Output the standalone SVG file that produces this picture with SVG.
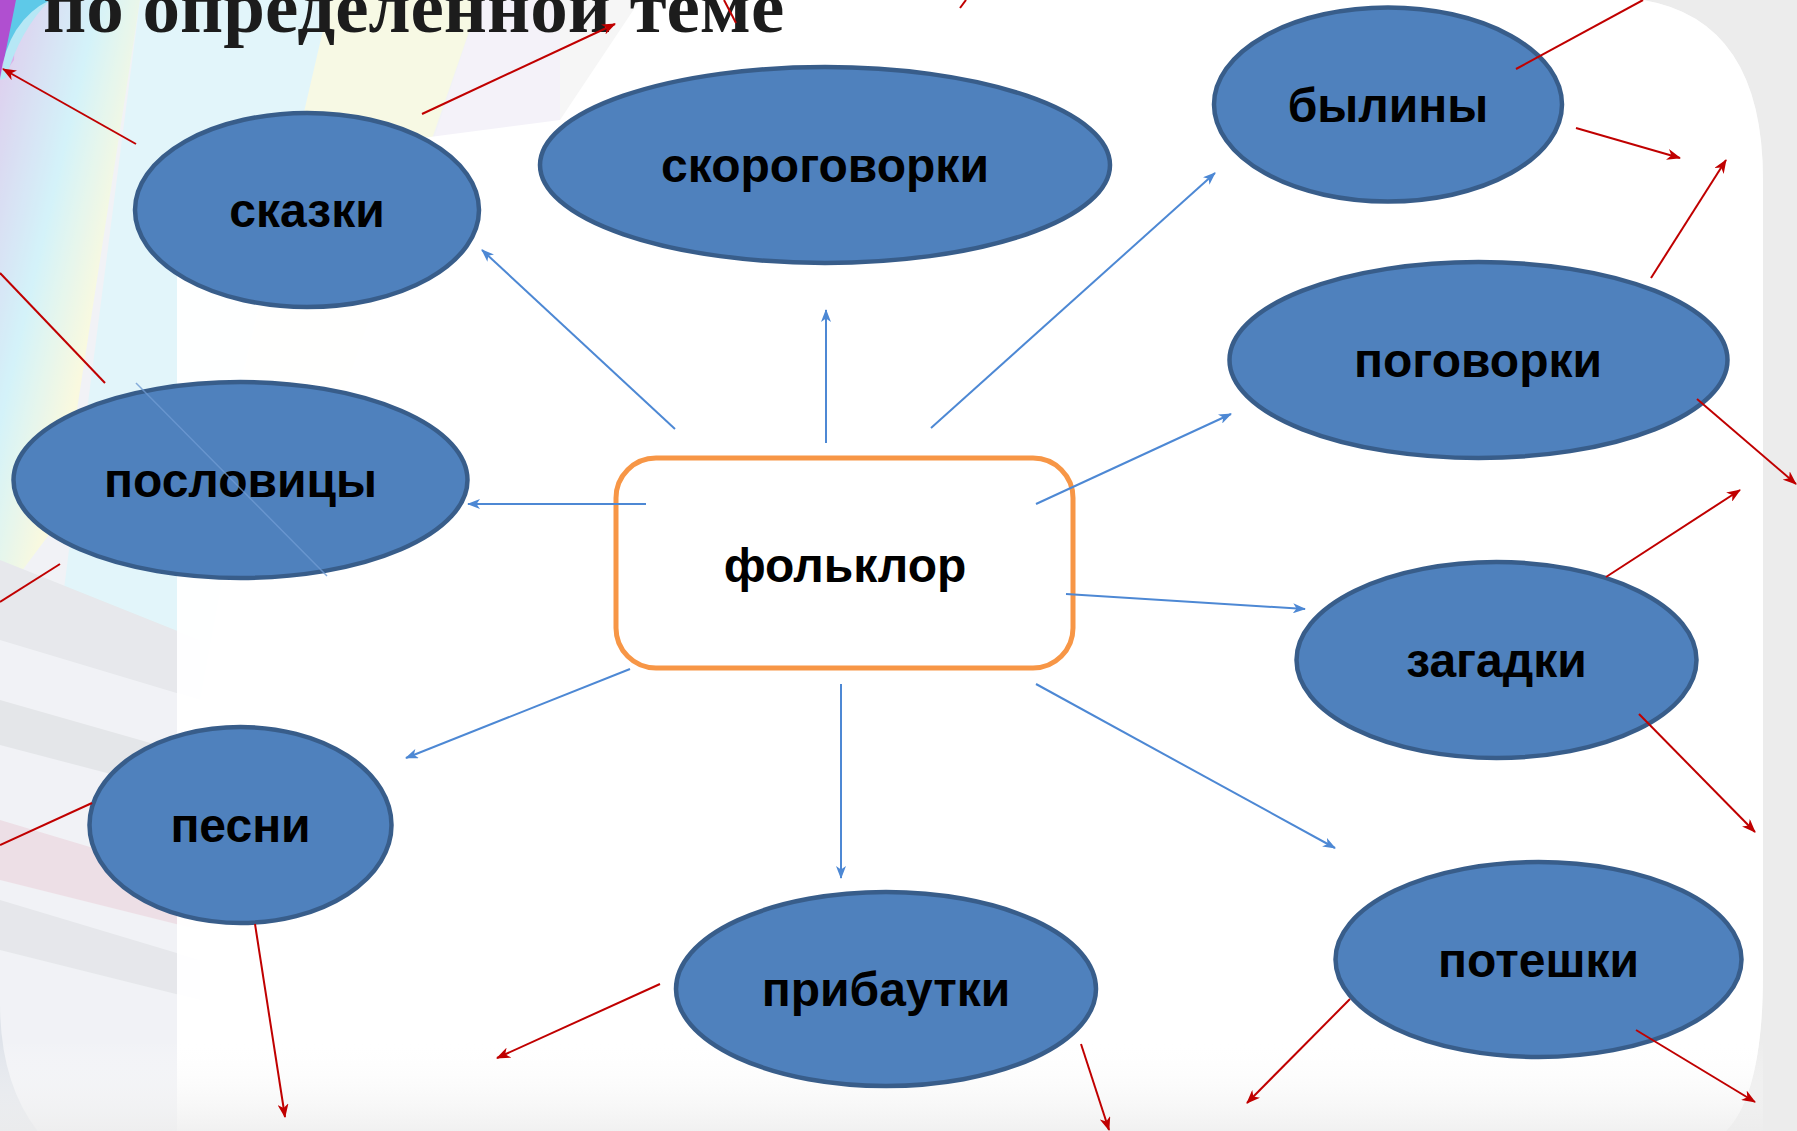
<svg xmlns="http://www.w3.org/2000/svg" width="1797" height="1131" viewBox="0 0 1797 1131">
  <defs>
    <style>
      .node ellipse { fill: #4F81BD; stroke: #385D8A; stroke-width: 4.5; }
      .label { font-family: "Liberation Sans", Arial, sans-serif; font-weight: bold; font-size: 48px; fill: #000; text-anchor: middle; }
      .blue { stroke: #4D88D4; stroke-width: 2; fill: none; marker-end: url(#arrowBlue); }
      .red { stroke: #C00000; stroke-width: 2; fill: none; marker-end: url(#arrowRed); }
      .red-plain { stroke: #C00000; stroke-width: 2; fill: none; }
      .title { font-family: "Liberation Serif", "Times New Roman", serif; font-weight: bold; font-size: 75px; fill: #1c1c1c; }
    </style>
    <marker id="arrowBlue" markerUnits="userSpaceOnUse" markerWidth="13" markerHeight="10" refX="12" refY="5" orient="auto">
      <path d="M0,0 L13,5 L0,10 L3.5,5 Z" fill="#4D88D4"/>
    </marker>
    <marker id="arrowRed" markerUnits="userSpaceOnUse" markerWidth="14" markerHeight="11" refX="13" refY="5.5" orient="auto">
      <path d="M0,0 L14,5.5 L0,11 L4,5.5 Z" fill="#C00000"/>
    </marker>
    <linearGradient id="ribbon1" x1="0" y1="0" x2="1" y2="1">
      <stop offset="0" stop-color="#b98ad6"/>
      <stop offset="0.35" stop-color="#9fe3f2"/>
      <stop offset="0.6" stop-color="#f3f2b8"/>
      <stop offset="1" stop-color="#cfe6c4"/>
    </linearGradient>
    <linearGradient id="bottomBand" x1="0" y1="0" x2="0" y2="1">
      <stop offset="0" stop-color="#ffffff" stop-opacity="0"/>
      <stop offset="1" stop-color="#ededed" stop-opacity="0.8"/>
    </linearGradient>
    <clipPath id="leftClip">
      <rect x="0" y="0" width="560" height="1131"/>
    </clipPath>
  </defs>

  <!-- background -->
  <g id="background">
    <rect x="0" y="0" width="1797" height="1131" fill="#ececec"/>
    <g clip-path="url(#leftClip)">
      <rect x="0" y="0" width="560" height="1131" fill="#dfe3ea"/>
      <path d="M0,0 L140,0 L60,520 L0,600 Z" fill="url(#ribbon1)"/>
      <path d="M140,0 L330,0 L200,700 L60,620 Z" fill="#bfe9f3"/>
      <path d="M330,0 L480,0 L300,520 L200,560 Z" fill="#eef1c4"/>
      <path d="M480,0 L560,0 L560,140 L380,300 Z" fill="#e6e2f2"/>
      <path d="M0,560 L200,640 L200,700 L0,640 Z" fill="#c9ccd4"/>
      <path d="M0,700 L210,760 L210,800 L0,745 Z" fill="#c4c7cf"/>
      <path d="M0,820 L200,880 L200,930 L0,880 Z" fill="#d8b8c8"/>
      <path d="M0,900 L200,960 L200,1000 L0,950 Z" fill="#c7cad2"/>
    </g>
    <path d="M0,0 L16,0 L14,60 L0,80 Z" fill="#b04fd0"/>
    <path d="M16,0 L50,0 Q20,30 6,78 L0,80 Z" fill="#5ec9e8"/>
    <path d="M50,0 H1643 Q1763,20 1763,180 V974 Q1763,1110 1715,1140 H45 Q0,1090 0,1003 V78 Q8,20 50,0 Z" fill="#ffffff" fill-opacity="0.55"/>
    <path d="M177,170 L560,120 L640,0 H1643 Q1763,20 1763,180 V974 Q1763,1110 1715,1140 H177 Z" fill="#ffffff" fill-opacity="0.96"/>
    <rect x="0" y="1040" width="1763" height="91" fill="url(#bottomBand)"/>
  </g>

  <text class="title" x="43" y="32">по определенной теме</text>

  <!-- nodes -->
  <g id="node-skazki" class="node">
    <ellipse cx="307" cy="210" rx="172" ry="97"/>
    <text class="label" x="307" y="227">сказки</text>
  </g>
  <g id="node-skorogovorki" class="node">
    <ellipse cx="825" cy="165" rx="285" ry="98"/>
    <text class="label" x="825" y="182">скороговорки</text>
  </g>
  <g id="node-byliny" class="node">
    <ellipse cx="1388" cy="104.5" rx="174" ry="97"/>
    <text class="label" x="1388" y="122">былины</text>
  </g>
  <g id="node-pogovorki" class="node">
    <ellipse cx="1478.5" cy="360" rx="249" ry="98"/>
    <text class="label" x="1478" y="377">поговорки</text>
  </g>
  <g id="node-poslovitsy" class="node">
    <ellipse cx="240.5" cy="480" rx="227" ry="98"/>
    <text class="label" x="240.5" y="497">пословицы</text>
  </g>
  <g id="node-zagadki" class="node">
    <ellipse cx="1496.5" cy="660" rx="200" ry="98"/>
    <text class="label" x="1496.5" y="677">загадки</text>
  </g>
  <g id="node-poteshki" class="node">
    <ellipse cx="1538.5" cy="959.5" rx="203" ry="97.5"/>
    <text class="label" x="1538.5" y="977">потешки</text>
  </g>
  <g id="node-pribautki" class="node">
    <ellipse cx="886" cy="989" rx="210" ry="97"/>
    <text class="label" x="886" y="1006">прибаутки</text>
  </g>
  <g id="node-pesni" class="node">
    <ellipse cx="240.5" cy="825" rx="151" ry="98"/>
    <text class="label" x="240.5" y="842">песни</text>
  </g>
  <g id="node-folklor">
    <rect x="616" y="458" width="457" height="210" rx="40" ry="40" fill="#ffffff" stroke="#F79646" stroke-width="5"/>
    <text class="label" x="845" y="582">фольклор</text>
  </g>

  <!-- connectors -->
  <g id="connectors">
    <line class="blue" x1="675" y1="429" x2="482" y2="250"/>
    <line class="blue" x1="826" y1="443" x2="826" y2="310"/>
    <line class="blue" x1="931" y1="428" x2="1215" y2="173"/>
    <line class="blue" x1="1036" y1="504" x2="1231" y2="414"/>
    <line class="blue" x1="646" y1="504" x2="468" y2="504"/>
    <line class="blue" x1="1066" y1="594" x2="1305" y2="609"/>
    <line class="blue" x1="1036" y1="684" x2="1335" y2="848"/>
    <line class="blue" x1="841" y1="684" x2="841" y2="878"/>
    <line class="blue" x1="630" y1="669" x2="406" y2="758"/>
    <line x1="136" y1="383" x2="327" y2="576" stroke="#6E9AD2" stroke-width="1.5" stroke-opacity="0.8"/>

    <line class="red" x1="136" y1="144" x2="3" y2="69"/>
    <line class="red" x1="422" y1="114" x2="615" y2="24"/>
    <line class="red-plain" x1="724" y1="0" x2="736" y2="23"/>
    <line class="red-plain" x1="966" y1="0" x2="960" y2="8"/>
    <line class="red-plain" x1="1516" y1="69" x2="1643" y2="0"/>
    <line class="red" x1="1576" y1="128" x2="1680" y2="158"/>
    <line class="red" x1="1651" y1="278" x2="1726" y2="160"/>
    <line class="red" x1="1697" y1="399" x2="1796" y2="484"/>
    <line class="red" x1="1606" y1="577" x2="1740" y2="490"/>
    <line class="red" x1="1639" y1="714" x2="1755" y2="832"/>
    <line class="red" x1="1350" y1="999" x2="1247" y2="1103"/>
    <line class="red" x1="1636" y1="1030" x2="1755" y2="1102"/>
    <line class="red" x1="1081" y1="1044" x2="1109" y2="1130"/>
    <line class="red" x1="660" y1="984" x2="497" y2="1058"/>
    <line class="red" x1="255" y1="924" x2="285" y2="1117"/>
    <line class="red-plain" x1="92" y1="803" x2="0" y2="845"/>
    <line class="red-plain" x1="60" y1="564" x2="0" y2="602"/>
    <line class="red-plain" x1="0" y1="273" x2="105" y2="383"/>
  </g>
</svg>
